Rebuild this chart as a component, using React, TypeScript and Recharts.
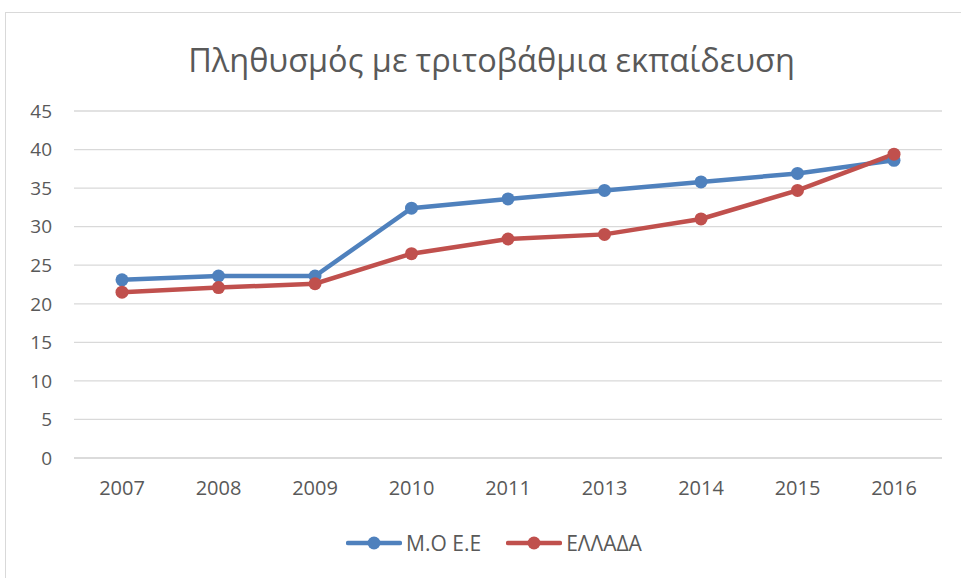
import React from 'react';
import { LineChart, Line, XAxis, YAxis, CartesianGrid, Legend } from 'recharts';

const years = ['2007', '2008', '2009', '2010', '2011', '2013', '2014', '2015', '2016'];
const euAvg = [23.1, 23.6, 23.6, 32.4, 33.6, 34.7, 35.8, 36.9, 38.6];
const greece = [21.5, 22.1, 22.6, 26.5, 28.4, 29.0, 31.0, 34.7, 39.4];
const yTicks = [0, 5, 10, 15, 20, 25, 30, 35, 40, 45];

const SERIES = [
  { key: 'eu', name: 'Μ.Ο Ε.Ε', color: '#4F81BD' },
  { key: 'gr', name: 'ΕΛΛΑΔΑ', color: '#C0504D' },
];

const TEXT = '#595959';
const FONT = '"Open Sans", sans-serif';

const data = years.map((y, i) => ({ year: y, eu: euAvg[i], gr: greece[i] }));

function LegendContent() {
  return (
    <div style={{ display: 'flex', justifyContent: 'center', alignItems: 'center', gap: 25, height: 30, fontFamily: FONT, fontSize: 21, color: TEXT }}>
      {SERIES.map((s) => (
        <div key={s.key} style={{ display: 'flex', alignItems: 'center' }}>
          <svg width={56} height={16} style={{ marginRight: 4 }}>
            <line x1={2} y1={8} x2={54} y2={8} stroke={s.color} strokeWidth={4.5} strokeLinecap="round" />
            <circle cx={28} cy={8} r={6.5} fill={s.color} />
          </svg>
          <span>{s.name}</span>
        </div>
      ))}
    </div>
  );
}

export default function App() {
  return (
    <div style={{ position: 'fixed', left: 0, top: 0, width: 961, height: 578, overflow: 'hidden', background: '#fff' }}>
      <div style={{ position: 'absolute', left: 5, top: 12, width: 1000, height: 620, border: '1px solid #d9d9d9' }} />
      <div
        style={{
          position: 'absolute',
          left: 0,
          top: 37,
          width: 983,
          textAlign: 'center',
          fontFamily: FONT,
          fontSize: 32.5,
          color: TEXT,
          lineHeight: '46px',
        }}
      >
        Πληθυσμός με τριτοβάθμια εκπαίδευση
      </div>
      <div style={{ position: 'absolute', left: 0, top: 0 }}>
        <LineChart width={961} height={578} data={data} margin={{ top: 111, right: 19, left: 0, bottom: 20 }}>
          <CartesianGrid vertical={false} stroke="#d9d9d9" strokeWidth={1.3} />
          <XAxis
            dataKey="year"
            height={70}
            padding={{ left: 48, right: 48 }}
            axisLine={{ stroke: '#d9d9d9', strokeWidth: 1.3 }}
            tickLine={false}
            tickMargin={17}
            tick={{ fill: TEXT, fontSize: 20, fontFamily: FONT }}
          />
          <YAxis
            width={74}
            domain={[0, 45]}
            ticks={yTicks}
            axisLine={false}
            tickLine={false}
            tickMargin={16}
            tick={{ fill: TEXT, fontSize: 19, fontFamily: FONT }}
          />
          <Legend
            verticalAlign="bottom"
            content={<LegendContent />}
            wrapperStyle={{ left: 0, width: 988 }}
          />
          {SERIES.map((s) => (
            <Line
              key={s.key}
              dataKey={s.key}
              name={s.name}
              stroke={s.color}
              strokeWidth={4.5}
              dot={{ r: 6.5, fill: s.color, stroke: s.color, strokeWidth: 0 }}
              activeDot={false}
              isAnimationActive={false}
            />
          ))}
        </LineChart>
      </div>
    </div>
  );
}
